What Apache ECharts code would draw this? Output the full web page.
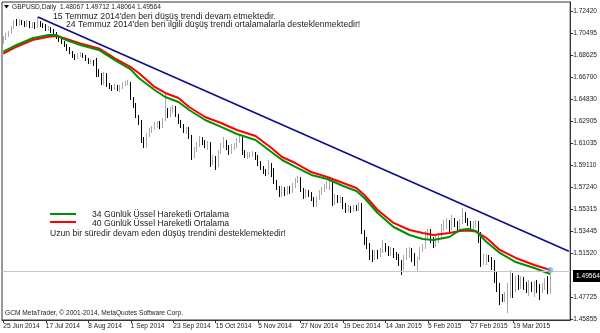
<!DOCTYPE html>
<html><head><meta charset="utf-8">
<script src="https://cdn.jsdelivr.net/npm/echarts@6/dist/echarts.min.js"></script>
<style>html,body{margin:0;padding:0;background:#fff}#c{width:600px;height:333px}</style>
</head><body><div id="c"></div>
<script>
// ---- DATA ----
const symbolInfo = "GBPUSD,Daily  1.48067 1.49712 1.48064 1.49564";
const tickLabels = ["25 Jun 2014","17 Jul 2014","8 Aug 2014","1 Sep 2014","23 Sep 2014","15 Oct 2014","5 Nov 2014","27 Nov 2014","19 Dec 2014","14 Jan 2015","5 Feb 2015","27 Feb 2015","19 Mar 2015"];
const yTicks = [1.72420,1.70495,1.68625,1.66700,1.64830,1.62905,1.61035,1.59110,1.57240,1.55315,1.53445,1.51520,1.47725,1.45855];
const lastPrice = 1.49564;
// [open, close, low, high]
const ohlc = [
[1.6966,1.7009,1.6957,1.7026],[1.7009,1.7035,1.6992,1.7052],[1.7035,1.7052,1.7018,1.7070],[1.7052,1.7095,1.7044,1.7113],
[1.7095,1.7147,1.7087,1.7164],[1.7147,1.7130,1.7113,1.7173],[1.7130,1.7156,1.7113,1.7173],[1.7156,1.7138,1.7121,1.7164],
[1.7138,1.7121,1.7104,1.7156],[1.7121,1.7147,1.7104,1.7164],[1.7147,1.7113,1.7095,1.7156],[1.7113,1.7130,1.7095,1.7147],
[1.7130,1.7104,1.7087,1.7147],[1.7104,1.7147,1.7095,1.7190],[1.7147,1.7121,1.7104,1.7156],[1.7121,1.7113,1.7095,1.7138],
[1.7113,1.7087,1.7070,1.7130],[1.7087,1.7095,1.7070,1.7113],[1.7095,1.7070,1.7052,1.7104],[1.7070,1.7052,1.7035,1.7087],
[1.7052,1.7018,1.7001,1.7061],[1.7018,1.6992,1.6975,1.7035],[1.6992,1.6975,1.6957,1.7009],[1.6975,1.6949,1.6932,1.6983],
[1.6949,1.6914,1.6897,1.6957],[1.6914,1.6888,1.6871,1.6932],[1.6888,1.6854,1.6837,1.6897],[1.6854,1.6837,1.6819,1.6871],
[1.6837,1.6863,1.6828,1.6880],[1.6863,1.6871,1.6845,1.6888],[1.6871,1.6854,1.6837,1.6880],[1.6854,1.6828,1.6811,1.6863],
[1.6828,1.6802,1.6785,1.6837],[1.6802,1.6811,1.6785,1.6828],[1.6811,1.6785,1.6768,1.6819],[1.6785,1.6733,1.6673,1.6837],
[1.6733,1.6699,1.6673,1.6742],[1.6699,1.6621,1.6604,1.6707],[1.6621,1.6699,1.6604,1.6716],[1.6699,1.6604,1.6587,1.6707],
[1.6604,1.6587,1.6569,1.6621],[1.6587,1.6578,1.6552,1.6604],[1.6578,1.6595,1.6561,1.6612],[1.6595,1.6569,1.6552,1.6604],
[1.6569,1.6587,1.6543,1.6604],[1.6587,1.6612,1.6569,1.6630],[1.6612,1.6621,1.6595,1.6638],[1.6621,1.6630,1.6604,1.6647],
[1.6612,1.6483,1.6474,1.6630],[1.6483,1.6431,1.6405,1.6500],[1.6431,1.6336,1.6319,1.6449],[1.6336,1.6293,1.6259,1.6345],
[1.6293,1.6129,1.6104,1.6302],[1.6129,1.6078,1.6060,1.6155],[1.6078,1.6173,1.6060,1.6190],[1.6173,1.6207,1.6155,1.6233],
[1.6207,1.6233,1.6190,1.6250],[1.6233,1.6250,1.6216,1.6285],[1.6250,1.6267,1.6233,1.6293],[1.6267,1.6242,1.6224,1.6293],
[1.6242,1.6302,1.6233,1.6319],[1.6302,1.6371,1.6293,1.6535],[1.6371,1.6336,1.6319,1.6405],[1.6336,1.6388,1.6328,1.6414],
[1.6388,1.6405,1.6362,1.6431],[1.6405,1.6345,1.6328,1.6423],[1.6345,1.6285,1.6267,1.6354],[1.6285,1.6250,1.6233,1.6302],
[1.6250,1.6216,1.6190,1.6267],[1.6216,1.6224,1.6181,1.6242],[1.6224,1.6155,1.6138,1.6242],[1.6155,1.5983,1.5957,1.6173],
[1.5983,1.6043,1.5974,1.6069],[1.6043,1.6086,1.6026,1.6112],[1.6086,1.6138,1.6069,1.6164],[1.6138,1.6104,1.6086,1.6155],
[1.6104,1.6078,1.6060,1.6129],[1.6078,1.6104,1.6043,1.6121],[1.6104,1.5940,1.5897,1.6112],[1.5940,1.5966,1.5914,1.6000],
[1.5966,1.5914,1.5871,1.5991],[1.5914,1.6026,1.5897,1.6043],[1.6026,1.6078,1.6009,1.6104],[1.6078,1.6112,1.6060,1.6155],
[1.6112,1.6060,1.6043,1.6129],[1.6060,1.6026,1.6000,1.6086],[1.6026,1.6069,1.6009,1.6095],[1.6069,1.6078,1.6043,1.6104],
[1.6078,1.6121,1.6060,1.6147],[1.6121,1.6138,1.6104,1.6173],[1.6138,1.6026,1.6000,1.6155],[1.6026,1.5991,1.5974,1.6043],
[1.5991,1.6000,1.5966,1.6026],[1.6000,1.6009,1.5974,1.6026],[1.6009,1.6017,1.5983,1.6035],[1.6017,1.5983,1.5957,1.6026],
[1.5983,1.5931,1.5905,1.6000],[1.5931,1.5888,1.5871,1.5948],[1.5888,1.5862,1.5836,1.5905],[1.5862,1.5845,1.5819,1.5879],
[1.5845,1.5914,1.5828,1.5957],[1.5914,1.5871,1.5810,1.5931],[1.5871,1.5767,1.5750,1.5888],[1.5767,1.5715,1.5698,1.5784],
[1.5715,1.5672,1.5638,1.5733],[1.5672,1.5698,1.5638,1.5733],[1.5698,1.5672,1.5646,1.5724],[1.5672,1.5707,1.5655,1.5733],
[1.5707,1.5690,1.5664,1.5733],[1.5690,1.5733,1.5672,1.5759],[1.5733,1.5784,1.5715,1.5802],[1.5784,1.5802,1.5759,1.5819],
[1.5802,1.5698,1.5681,1.5810],[1.5698,1.5646,1.5621,1.5715],[1.5646,1.5681,1.5629,1.5707],[1.5681,1.5655,1.5638,1.5698],
[1.5655,1.5621,1.5603,1.5681],[1.5621,1.5577,1.5552,1.5638],[1.5577,1.5629,1.5552,1.5646],[1.5629,1.5672,1.5612,1.5698],
[1.5672,1.5698,1.5655,1.5724],[1.5698,1.5724,1.5681,1.5750],[1.5724,1.5750,1.5707,1.5776],[1.5750,1.5759,1.5698,1.5784],
[1.5759,1.5595,1.5560,1.5776],[1.5595,1.5638,1.5569,1.5664],[1.5638,1.5603,1.5586,1.5655],[1.5603,1.5621,1.5586,1.5646],
[1.5621,1.5560,1.5534,1.5638],[1.5560,1.5526,1.5500,1.5586],[1.5526,1.5543,1.5508,1.5569],[1.5543,1.5526,1.5500,1.5560],
[1.5526,1.5552,1.5508,1.5569],[1.5552,1.5534,1.5517,1.5569],[1.5534,1.5569,1.5517,1.5595],[1.5569,1.5336,1.5319,1.5586],
[1.5336,1.5267,1.5224,1.5353],[1.5267,1.5215,1.5189,1.5293],[1.5215,1.5138,1.5094,1.5241],[1.5138,1.5112,1.5077,1.5181],
[1.5112,1.5155,1.5094,1.5181],[1.5155,1.5138,1.5103,1.5181],[1.5138,1.5172,1.5120,1.5198],[1.5172,1.5224,1.5155,1.5267],
[1.5224,1.5198,1.5163,1.5241],[1.5198,1.5163,1.5129,1.5215],[1.5163,1.5181,1.5129,1.5207],[1.5181,1.5146,1.5112,1.5198],
[1.5146,1.5129,1.5094,1.5163],[1.5129,1.5077,1.5043,1.5146],[1.5077,1.5025,1.4965,1.5094],[1.5025,1.5112,1.5008,1.5138],
[1.5112,1.5163,1.5094,1.5198],[1.5163,1.5181,1.5112,1.5207],[1.5181,1.5129,1.5077,1.5198],[1.5129,1.5077,1.5043,1.5155],
[1.5077,1.5112,1.4991,1.5120],[1.5112,1.5181,1.5094,1.5207],[1.5181,1.5207,1.5163,1.5232],[1.5207,1.5327,1.5189,1.5345],
[1.5327,1.5345,1.5284,1.5362],[1.5345,1.5267,1.5241,1.5362],[1.5267,1.5224,1.5198,1.5293],[1.5224,1.5267,1.5207,1.5310],
[1.5267,1.5293,1.5241,1.5327],[1.5293,1.5370,1.5276,1.5405],[1.5370,1.5388,1.5345,1.5439],[1.5388,1.5422,1.5362,1.5457],
[1.5422,1.5370,1.5336,1.5439],[1.5370,1.5439,1.5353,1.5483],[1.5439,1.5405,1.5379,1.5457],[1.5405,1.5370,1.5345,1.5431],
[1.5370,1.5422,1.5353,1.5448],[1.5422,1.5491,1.5405,1.5543],[1.5491,1.5439,1.5414,1.5508],[1.5439,1.5414,1.5388,1.5457],
[1.5414,1.5388,1.5362,1.5431],[1.5388,1.5405,1.5353,1.5431],[1.5405,1.5422,1.5370,1.5439],[1.5422,1.5319,1.5241,1.5431],
[1.5319,1.5077,1.5034,1.5336],[1.5077,1.5112,1.5051,1.5146],[1.5112,1.5129,1.5051,1.5146],[1.5129,1.5103,1.5077,1.5138],
[1.5103,1.5077,1.5008,1.5120],[1.5077,1.4965,1.4896,1.5094],[1.4965,1.4853,1.4818,1.4991],[1.4853,1.4775,1.4706,1.4896],
[1.4775,1.4749,1.4732,1.4801],[1.4749,1.4784,1.4732,1.4818],[1.4767,1.4836,1.4637,1.4896],[1.4836,1.4965,1.4767,1.5008],
[1.4965,1.4836,1.4767,1.4982],[1.4836,1.4922,1.4818,1.4956],[1.4922,1.4896,1.4836,1.4965],[1.4896,1.4931,1.4844,1.4956],
[1.4931,1.4879,1.4836,1.4948],[1.4879,1.4853,1.4810,1.4905],[1.4853,1.4887,1.4784,1.4922],[1.4887,1.4862,1.4818,1.4905],
[1.4862,1.4896,1.4775,1.4913],[1.4896,1.4853,1.4810,1.4922],[1.4853,1.4836,1.4749,1.4887],[1.4836,1.4853,1.4810,1.4896],
[1.4853,1.4913,1.4836,1.4939],[1.4913,1.4810,1.4801,1.4956],[1.48067,1.49564,1.48064,1.49712]
];
// EMA readings [barIndex, value]
const ema34 = [[0,1.6891],[5,1.6949],[11,1.7007],[17,1.7035],[20,1.7035],[23,1.6998],[29,1.6949],[36,1.6906],[42,1.6819],[48,1.6739],[51,1.6664],[57,1.6561],[61,1.6500],[66,1.6457],[70,1.6388],[76,1.6302],[82,1.6242],[88,1.6181],[95,1.6129],[101,1.6026],[105,1.5957],[110,1.5897],[116,1.5828],[122,1.5793],[128,1.5733],[133,1.5690],[136,1.5629],[141,1.5500],[147,1.5379],[153,1.5310],[158,1.5276],[162,1.5267],[168,1.5293],[172,1.5353],[175,1.5362],[178,1.5345],[182,1.5250],[187,1.5155],[193,1.5077],[200,1.5025],[206,1.4974]];
const ema40 = [[0,1.6875],[5,1.6934],[11,1.6992],[17,1.7020],[20,1.7026],[23,1.7007],[29,1.6963],[36,1.6920],[42,1.6834],[48,1.6759],[51,1.6707],[57,1.6587],[61,1.6535],[66,1.6492],[70,1.6414],[76,1.6328],[82,1.6276],[88,1.6216],[95,1.6164],[101,1.6060],[105,1.5983],[110,1.5931],[116,1.5853],[122,1.5810],[128,1.5759],[133,1.5715],[136,1.5655],[141,1.5526],[147,1.5414],[153,1.5353],[158,1.5327],[162,1.5310],[168,1.5327],[172,1.5345],[175,1.5349],[178,1.5340],[182,1.5284],[187,1.5181],[193,1.5112],[200,1.5051],[206,1.5008]];
const trendLine = [[13,1.7190],[213,1.5169]];
const legendNames = ["34 Günlük Üssel Hareketli Ortalama","40 Günlük Üssel Hareketli Ortalama"];
const note1 = "15 Temmuz 2014'den beri düşüş trendi devam etmektedir.";
const note2 = "24 Temmuz 2014'den beri ilgili düşüş trendi ortalamalarla desteklenmektedir!";
const note3 = "Uzun bir süredir devam eden düşüş trendini desteklemektedir!";
const copyright = "GCM MetaTrader, © 2001-2014, MetaQuotes Software Corp.";
const SLOTS = 214;

// trading-day categories (weekdays, Christmas & New Year closed)
const MON = ["Jan","Feb","Mar","Apr","May","Jun","Jul","Aug","Sep","Oct","Nov","Dec"];
const dates = [];
for (let d = new Date(2014,5,25); dates.length < SLOTS; d.setDate(d.getDate()+1)) {
  const wd = d.getDay();
  if (wd === 0 || wd === 6) continue;
  if ((d.getMonth()===11 && d.getDate()===25) || (d.getMonth()===0 && d.getDate()===1)) continue;
  dates.push(d.getDate()+" "+MON[d.getMonth()]+" "+d.getFullYear());
}
const showTick = (i)=> i % 16 === 0 && (i/16) < tickLabels.length;

const FONT = "Liberation Sans";
const chart = echarts.init(document.getElementById('c'), null, {renderer:'canvas'});
chart.setOption({
  animation:false,
  backgroundColor:'#ffffff',
  grid:{left:2, right:28, top:2, bottom:13, show:true, borderColor:'#333', borderWidth:1, backgroundColor:'#fff'},
  xAxis:{type:'category', data:dates, boundaryGap:true,
    axisLine:{show:true, lineStyle:{color:'#333'}},
    axisTick:{show:true, interval:showTick, alignWithLabel:true, length:3, lineStyle:{color:'#333'}},
    axisLabel:{interval:showTick, align:'left', margin:3, fontSize:6.6, color:'#222', fontFamily:FONT,
      formatter:(v,i)=> tickLabels[i/16] || ''},
    splitLine:{show:false}},
  yAxis:{type:'value', position:'right', min:1.45769, max:1.73197, scale:true,
    axisLine:{show:true, lineStyle:{color:'#333'}},
    axisTick:{show:true, length:3, customValues:yTicks, lineStyle:{color:'#333'}},
    axisLabel:{customValues:yTicks, formatter:v=>v.toFixed(5), fontSize:6.6, color:'#222', margin:3, fontFamily:FONT},
    splitLine:{show:false}},
  series:[
    {type:'candlestick', data:ohlc, barWidth:1, z:2,
      itemStyle:{color:'#a9a9a9', color0:'#000000', borderColor:'#a9a9a9', borderColor0:'#000000', borderWidth:1},
      markLine:{silent:true, symbol:'none', animation:false, label:{show:false},
        lineStyle:{color:'#c8c8c8', type:'solid', width:1}, data:[{yAxis:lastPrice}]}},
    {type:'line', data:ema40, showSymbol:false, z:3, lineStyle:{color:'#ff0000', width:2}, itemStyle:{color:'#ff0000'}},
    {type:'line', data:ema34, showSymbol:false, z:4, lineStyle:{color:'#009000', width:2}, itemStyle:{color:'#009000'}},
    {type:'line', data:trendLine, showSymbol:false, z:5, lineStyle:{color:'#0c0c8c', width:1.6}},
    {type:'scatter', data:[ema40[ema40.length-1]], symbolSize:6, z:6, itemStyle:{color:'rgba(120,160,235,0.85)'}}
  ]
});

const py = chart.convertToPixel({yAxisIndex:0}, lastPrice);
const txt = (t,x,y,size,color)=>({type:'text', x:x, y:y, silent:true,
  style:{text:t, fill:color||'#222', font:size+'px "'+FONT+'"', textVerticalAlign:'middle', textAlign:'left'}});
chart.setOption({graphic:[
  {type:'polygon', silent:true, shape:{points:[[4,5],[9,5],[6.5,8.5]]}, style:{fill:'#000'}},
  txt(symbolInfo, 12, 7, 6.6),
  txt(note1, 53, 17, 8.7),
  txt(note2, 66, 25, 8.7),
  {type:'line', silent:true, shape:{x1:50,y1:214,x2:76,y2:214}, style:{stroke:'#009000', lineWidth:2}},
  {type:'line', silent:true, shape:{x1:50,y1:222,x2:76,y2:222}, style:{stroke:'#ff0000', lineWidth:2}},
  txt(legendNames[0], 92, 215, 8.6),
  txt(legendNames[1], 92, 223.5, 8.6),
  txt(note3, 50, 233.5, 8.6),
  txt(copyright, 5, 313, 6.6),
  {type:'rect', silent:true, shape:{x:573, y:py-6, width:27, height:12}, style:{fill:'#000'}},
  txt(lastPrice.toFixed(5), 576, py, 6.6, '#fff')
]});
</script></body></html>
